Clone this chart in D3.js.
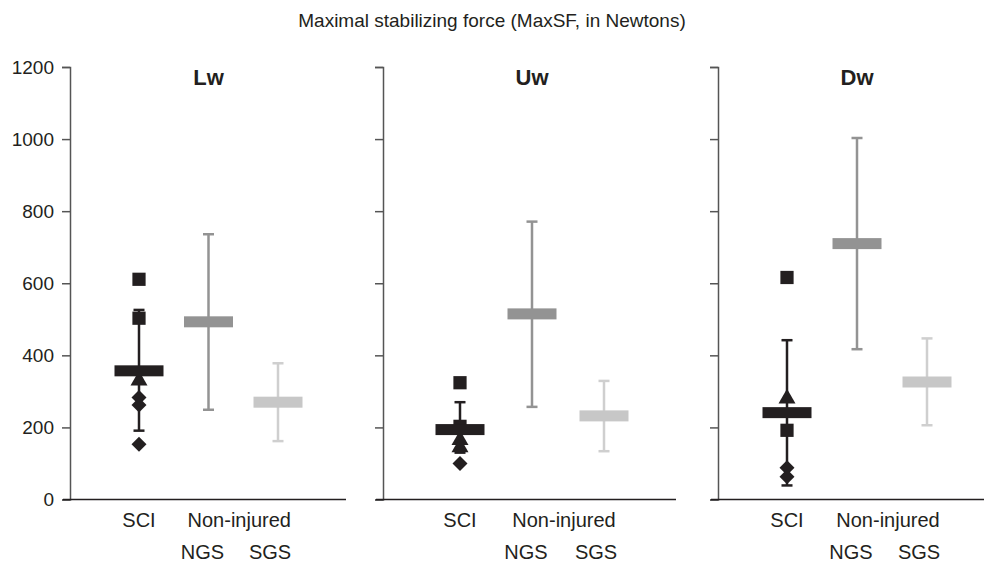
<!DOCTYPE html>
<html>
<head>
<meta charset="utf-8">
<script src="https://cdn.jsdelivr.net/npm/d3@7"></script>
<style>
  html, body { margin: 0; padding: 0; background: #fff; }
  svg text { font-family: "Liberation Sans", Arial, Helvetica, sans-serif; fill: #231f20; }
</style>
</head>
<body>
<svg id="chart" width="984" height="564"></svg>
<script>
// ---------------- data ----------------
const chartTitle = "Maximal stabilizing force (MaxSF, in Newtons)";
const panels = ["Lw", "Uw", "Dw"];
const groups = ["SCI", "NGS", "SGS"];
const yTicks = [0, 200, 400, 600, 800, 1000, 1200];

// mean values per panel (SCI, NGS, SGS)
const meanLw = [357, 493, 270];
const meanUw = [194, 515, 232];
const meanDw = [241, 710, 326];
// upper whisker
const upperLw = [526, 736, 378];
const upperUw = [270, 771, 329];
const upperDw = [442, 1003, 447];
// lower whisker
const lowerLw = [191, 249, 162];
const lowerUw = [130, 257, 134];
const lowerDw = [39, 417, 206];

// individual SCI subjects
const sciLwShape = ["square", "square", "triangle", "diamond", "diamond", "diamond"];
const sciLw = [611, 503, 330, 283, 262, 153];
const sciUwShape = ["square", "square", "triangle", "triangle", "diamond"];
const sciUw = [324, 203, 165, 145, 100];
const sciDwShape = ["square", "triangle", "square", "diamond", "diamond"];
const sciDw = [616, 280, 192, 88, 63];

const xLabelTop = ["SCI", "Non-injured"];
const xLabelBottom = ["NGS", "SGS"];

// ---------------- layout ----------------
const means = [meanLw, meanUw, meanDw];
const uppers = [upperLw, upperUw, upperDw];
const lowers = [lowerLw, lowerUw, lowerDw];
const subjVals = [sciLw, sciUw, sciDw];
const subjShapes = [sciLwShape, sciUwShape, sciDwShape];

const panelLayout = [
  { x0: 70,  w: 276, first: 69, step: 69.5 },
  { x0: 383, w: 293, first: 77, step: 72 },
  { x0: 718, w: 270, first: 69, step: 70 }
];
const colors = { SCI: "#231f20", NGS: "#939393", SGS: "#c7c7c7" };
const lineColors = { SCI: "#231f20", NGS: "#939393", SGS: "#cfcfcf" };

const svg = d3.select("#chart");
const y = d3.scaleLinear().domain([0, 1200]).range([499.5, 67]);

svg.append("text")
  .attr("x", 492).attr("y", 27)
  .attr("text-anchor", "middle")
  .style("font-size", "19px")
  .text(chartTitle);

const symbolTypes = { square: d3.symbolSquare, triangle: d3.symbolTriangle, diamond: d3.symbolSquare };
const symbolSizes = { square: 175, triangle: 125, diamond: 112 };

panels.forEach((p, pi) => {
  const L = panelLayout[pi];
  const x = d3.scalePoint().domain(groups)
    .range([L.x0 + L.first, L.x0 + L.first + 2 * L.step]);
  const g = svg.append("g");

  // y axis
  const ax = g.append("g").attr("transform", `translate(${L.x0},0)`)
    .call(d3.axisLeft(y).tickValues(yTicks).tickSize(8).tickPadding(8)
      .tickFormat(pi === 0 ? d3.format("d") : () => ""));
  ax.select(".domain").attr("stroke", "#555").attr("stroke-width", 1.5);
  ax.selectAll(".tick line").attr("stroke", "#555").attr("stroke-width", 1.5);
  ax.selectAll(".tick text").style("font-size", "19px").attr("fill", "#231f20")
    .style("font-family", '"Liberation Sans", Arial, sans-serif');

  // baseline
  g.append("line")
    .attr("x1", L.x0 - 7).attr("x2", L.x0 + L.w)
    .attr("y1", y(0)).attr("y2", y(0))
    .attr("stroke", "#231f20").attr("stroke-width", 1.5);

  // panel title
  g.append("text")
    .attr("x", x("NGS")).attr("y", 85)
    .attr("text-anchor", "middle")
    .style("font-size", "22px").style("font-weight", "bold")
    .text(p);

  groups.forEach((grp, gi) => {
    const cx = x(grp);
    const lc = lineColors[grp];
    g.append("line")
      .attr("x1", cx).attr("x2", cx)
      .attr("y1", y(lowers[pi][gi])).attr("y2", y(uppers[pi][gi]))
      .attr("stroke", lc).attr("stroke-width", 2.5);
    [lowers[pi][gi], uppers[pi][gi]].forEach(v => {
      g.append("line")
        .attr("x1", cx - 5.5).attr("x2", cx + 5.5)
        .attr("y1", y(v)).attr("y2", y(v))
        .attr("stroke", lc).attr("stroke-width", 2.5);
    });
  });

  // SCI individual markers
  subjVals[pi].forEach((v, i) => {
    const shp = subjShapes[pi][i];
    g.append("path")
      .attr("d", d3.symbol().type(symbolTypes[shp]).size(symbolSizes[shp])())
      .attr("transform", shp === "diamond"
        ? `translate(${x("SCI")},${y(v)}) rotate(45)`
        : `translate(${x("SCI")},${y(v)})`)
      .attr("fill", "#231f20");
  });

  // mean bars
  groups.forEach((grp, gi) => {
    const cx = x(grp);
    g.append("rect")
      .attr("x", cx - 24.5).attr("width", 49)
      .attr("y", y(means[pi][gi]) - 5.5).attr("height", 11)
      .attr("fill", colors[grp]);
  });

  // x labels
  g.append("text").attr("x", x("SCI")).attr("y", 527)
    .attr("text-anchor", "middle").style("font-size", "20px").text(xLabelTop[0]);
  g.append("text").attr("x", (x("NGS") + x("SGS")) / 2 - 4).attr("y", 527)
    .attr("text-anchor", "middle").style("font-size", "20px").text(xLabelTop[1]);
  g.append("text").attr("x", x("NGS") - 6).attr("y", 559)
    .attr("text-anchor", "middle").style("font-size", "20px").text(xLabelBottom[0]);
  g.append("text").attr("x", x("SGS") - 8).attr("y", 559)
    .attr("text-anchor", "middle").style("font-size", "20px").text(xLabelBottom[1]);
});
</script>
</body>
</html>
